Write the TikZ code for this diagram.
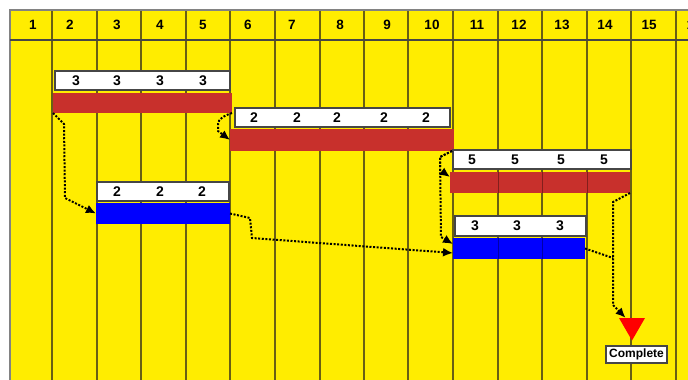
\documentclass[tikz,border=0pt]{standalone}
\usepackage{fontspec}
\setmainfont{Liberation Sans}
\usetikzlibrary{arrows.meta,shapes.geometric}
\definecolor{ylw}{RGB}{255,237,0}
\definecolor{barred}{RGB}{200,48,44}
\definecolor{barblue}{RGB}{0,0,255}
\definecolor{gridc}{RGB}{105,95,20}
\definecolor{framec}{RGB}{130,130,130}
\definecolor{labgray}{RGB}{70,70,70}
\definecolor{tri}{RGB}{255,0,0}
\begin{document}
\begin{tikzpicture}[x=1pt,y=-1pt,
  hdr/.style={font=\fontsize{13.5}{14}\selectfont\bfseries, inner sep=0},
  num/.style={font=\fontsize{14}{15}\selectfont\bfseries, inner sep=0},
  lab/.style={draw=labgray, line width=1.4pt, fill=white, anchor=north west, inner sep=0, outer sep=0},
  bar/.style={anchor=north west, inner sep=0, outer sep=0},
  conn/.style={line width=2pt, dash pattern=on 2pt off 1.6pt, -{Latex[length=10pt,width=9pt]}},
  connplain/.style={line width=2pt, dash pattern=on 2pt off 1.6pt},
  gridline/.style={gridc, line width=1.2pt},
  overline/.style={black, opacity=0.35, line width=0.9pt}]
\useasboundingbox (0,0) rectangle (688,380);
\begin{scope}
\clip (0,0) rectangle (688,380);
\fill[ylw] (10,10) rectangle (700,390);
\foreach \x in {52,97,141,186,230,275,320,364,408,453,498,542,587,631,676}
  \draw[gridline] (\x,10) -- (\x,390);
\draw[framec, line width=1.8pt] (10,390) -- (10,10) -- (700,10);
\draw[labgray, line width=2pt] (10,40) -- (700,40);
\foreach \x/\t in {33/1,70/2,117/3,160/4,203/5,248/6,292/7,340/8,387/9,432/10,477/11,519/12,562/13,605/14,649/15,694/16}
  \node[hdr] (h\t) at (\x,25) {\t};
\end{scope}

% bars
\node[bar, fill=barred, minimum width=179, minimum height=20] (barA) at (53,93) {};
\node[bar, fill=barred, minimum width=224, minimum height=22] (barB) at (230,129) {};
\node[bar, fill=barblue, minimum width=134, minimum height=21] (barC) at (96,203) {};
\node[bar, fill=barred, minimum width=180, minimum height=21] (barD) at (450,172) {};
\node[bar, fill=barblue, minimum width=132, minimum height=21] (barE) at (453,238) {};
\foreach \x in {498,542,587} \draw[overline] (\x,172) -- (\x,193);
\foreach \x in {498,542} \draw[overline] (\x,238) -- (\x,259);

% labels
\node[lab, minimum width=175, minimum height=19] (labA) at (55,71) {};
\node[lab, minimum width=215, minimum height=19] (labB) at (235,108) {};
\node[lab, minimum width=132, minimum height=19] (labC) at (97,182) {};
\node[lab, minimum width=178, minimum height=19] (labD) at (453,150) {};
\node[lab, minimum width=131, minimum height=20] (labE) at (455,216) {};

\foreach \x [count=\i] in {76,117,160,203} \node[num] (na\i) at (\x,80.5) {3};
\foreach \x [count=\i] in {254,297,337,384,426} \node[num] (nb\i) at (\x,117.5) {2};
\foreach \x [count=\i] in {117,160,202} \node[num] (nc\i) at (\x,191.5) {2};
\foreach \x [count=\i] in {472,515,561,604} \node[num] (nd\i) at (\x,159.5) {5};
\foreach \x [count=\i] in {475,517,560} \node[num] (ne\i) at (\x,226) {3};

% milestone
\node[regular polygon, regular polygon sides=3, shape border rotate=180, fill=tri, minimum size=30, inner sep=0] (done) at (632,325.5) {};
\node[draw=labgray, line width=1.4pt, fill=white, font=\fontsize{12}{13}\selectfont\bfseries, inner xsep=3pt, inner ysep=2pt, minimum height=17] (cmpl) at (636.5,354.5) {Complete};

% connectors
\draw[conn] (barA.south west) -- (64,124) -- (65,198) -- (barC.west);
\draw[conn] (barA.south east) to[out=200,in=90] (218,125) -- (218,131) -- (barB.west);
\draw[conn] (barC.east) -- (250,218) -- (252,238) -- ([yshift=-4.5pt]barE.west);
\draw[conn] ([xshift=-2pt]barB.south east) -- (440,157) -- (440,170) -- ([yshift=-5pt]barD.north west);
\draw[conn] ([xshift=-2pt]barB.south east) -- (440,157) -- (441,237) -- ([yshift=-6pt]barE.north west);
\coordinate (j) at (613,258);
\draw[conn] (barD.south east) -- (613,202) -- (j) -- (613,305) -- (done.130);
\draw[connplain] (barE.east) -- (j);
\end{tikzpicture}
\end{document}
